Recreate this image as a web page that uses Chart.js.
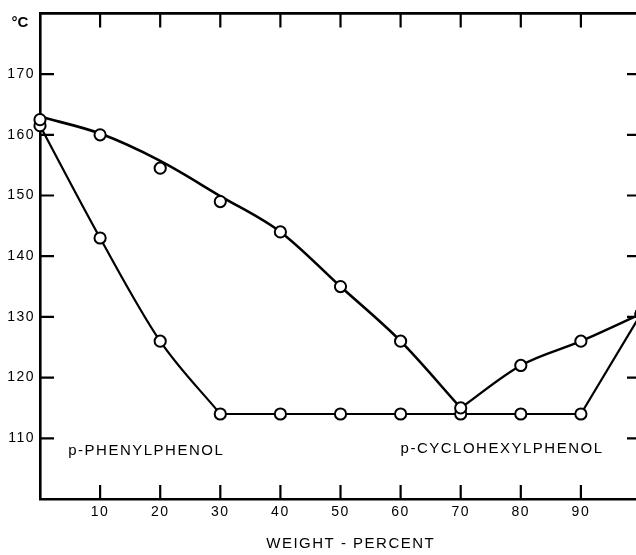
<!DOCTYPE html>
<html>
<head>
<meta charset="utf-8">
<script src="https://cdn.jsdelivr.net/npm/chart.js@4"></script>
<style>
    html, body { margin: 0; padding: 0; background: #ffffff; }
    .recorte { width: 636px; height: 555px; overflow: hidden; }
</style>
</head>
<body>
<div class="recorte">
    <canvas id="diagrama" width="652" height="555"></canvas>
</div>
<script>
// composicao (% em peso) e temperaturas (°C)
const peso = [0, 10, 20, 30, 40, 50, 60, 70, 80, 90, 100];

// pontos medidos (circulos)
const medidaLiquidus = [162.5, 160, 154.5, 149, 144, 135, 126, 115, 122, 126, 130.5];
const medidaSolidus = [161.5, 143, 126, 114, 114, 114, 114, 114, 114, 114, 130.5];

// curva desenhada a mao (ramo esquerdo passa um pouco acima de alguns pontos)
const curvaLiquidusEsq = [163, 160.2, 155.7, 149.9, 144, 135, 126, 115];
const curvaLiquidusDir = [115, 122, 126, 130.5];

const ticksPeso = [10, 20, 30, 40, 50, 60, 70, 80, 90];
const ticksTemp = [110, 120, 130, 140, 150, 160, 170];

const rotulos = [
    { texto: 'p-PHENYLPHENOL', x: 4.7, y: 108 },
    { texto: 'p-CYCLOHEXYLPHENOL', x: 60, y: 108.3 }
];

function trecho(ys, xIni) {
    return ys.map((y, i) => ({ x: peso[xIni + i], y: y }));
}

function linha(data, curva, espessura) {
    return {
        data: data,
        order: 1,
        borderColor: '#000000',
        borderWidth: espessura,
        pointRadius: 0,
        tension: curva ? 0.4 : 0,
        cubicInterpolationMode: curva ? 'monotone' : 'default',
        clip: false
    };
}

function marcadores(data) {
    return {
        data: data,
        order: 0,
        showLine: false,
        pointBackgroundColor: '#ffffff',
        pointBorderColor: '#000000',
        pointBorderWidth: 2,
        pointRadius: 5.6,
        clip: false
    };
}

Chart.defaults.font.family = "'Liberation Sans', Arial, sans-serif";
Chart.defaults.font.size = 14;
Chart.defaults.color = '#000000';

const moldura = {
    id: 'moldura',
    beforeDraw(chart) {
        chart.ctx.letterSpacing = '1.5px';
    },
    afterDraw(chart) {
        const ctx = chart.ctx;
        const area = chart.chartArea;
        const sx = chart.scales.x;
        const sy = chart.scales.y;
        const tam = 14;

        ctx.save();
        ctx.strokeStyle = '#000000';
        ctx.lineWidth = 2.6;
        ctx.beginPath();
        ctx.moveTo(area.left - 1, area.top);
        ctx.lineTo(area.right, area.top);
        ctx.lineTo(area.right, area.bottom);
        ctx.stroke();

        // marcas internas nos quatro lados
        ctx.lineWidth = 2.2;
        ctx.beginPath();
        ticksPeso.forEach(v => {
            const px = sx.getPixelForValue(v);
            ctx.moveTo(px, area.bottom);
            ctx.lineTo(px, area.bottom - tam);
            ctx.moveTo(px, area.top);
            ctx.lineTo(px, area.top + tam);
        });
        ticksTemp.forEach(v => {
            const py = sy.getPixelForValue(v);
            ctx.moveTo(area.left, py);
            ctx.lineTo(area.left + tam, py);
            ctx.moveTo(area.right, py);
            ctx.lineTo(area.right - tam, py);
        });
        ctx.stroke();

        ctx.fillStyle = '#000000';
        ctx.letterSpacing = '1.5px';
        ctx.font = "15px 'Liberation Sans', Arial, sans-serif";
        ctx.textBaseline = 'middle';
        ctx.textAlign = 'left';
        rotulos.forEach(r => {
            ctx.fillText(r.texto, sx.getPixelForValue(r.x), sy.getPixelForValue(r.y));
        });

        ctx.textAlign = 'center';
        ctx.fillText('WEIGHT - PERCENT', sx.getPixelForValue(51.7), 544);

        ctx.font = "bold 15px 'Liberation Sans', Arial, sans-serif";
        ctx.letterSpacing = '0px';
        ctx.fillText('°C', 20, 23);
        ctx.restore();
    }
};

const config = {
    type: 'line',
    data: {
        datasets: [
            marcadores(trecho(medidaLiquidus, 0)),
            marcadores(trecho(medidaSolidus, 0)),
            linha(trecho(curvaLiquidusEsq, 0), true, 2.6),
            linha(trecho(curvaLiquidusDir, 7), true, 2.4),
            linha(trecho(medidaSolidus.slice(0, 4), 0), true, 2.2),
            linha(trecho(medidaSolidus.slice(3, 10), 3), false, 2.2),
            linha(trecho(medidaSolidus.slice(9, 11), 9), false, 2.2)
        ]
    },
    options: {
        responsive: false,
        animation: false,
        layout: {
            padding: { top: 13, right: 11, left: 0, bottom: 0 }
        },
        plugins: {
            legend: { display: false },
            tooltip: { enabled: false },
            title: { display: false }
        },
        scales: {
            x: {
                type: 'linear',
                min: 0,
                max: 100,
                grid: { display: false, drawTicks: false },
                border: { display: true, color: '#000000', width: 2.6 },
                ticks: {
                    stepSize: 10,
                    padding: 5,
                    font: { size: 14 },
                    callback: v => (v === 0 || v === 100) ? '' : String(v)
                },
                afterFit(escala) { escala.height = 56; }
            },
            y: {
                type: 'linear',
                min: 100,
                max: 180,
                grid: { display: false, drawTicks: false },
                border: { display: true, color: '#000000', width: 2.6 },
                ticks: {
                    stepSize: 10,
                    padding: 5,
                    font: { size: 14 },
                    callback: v => (v === 100 || v === 180) ? '' : String(v)
                },
                afterFit(escala) { escala.width = 40; }
            }
        }
    },
    plugins: [moldura]
};

const grafico = new Chart(document.getElementById('diagrama'), config);
</script>
</body>
</html>
